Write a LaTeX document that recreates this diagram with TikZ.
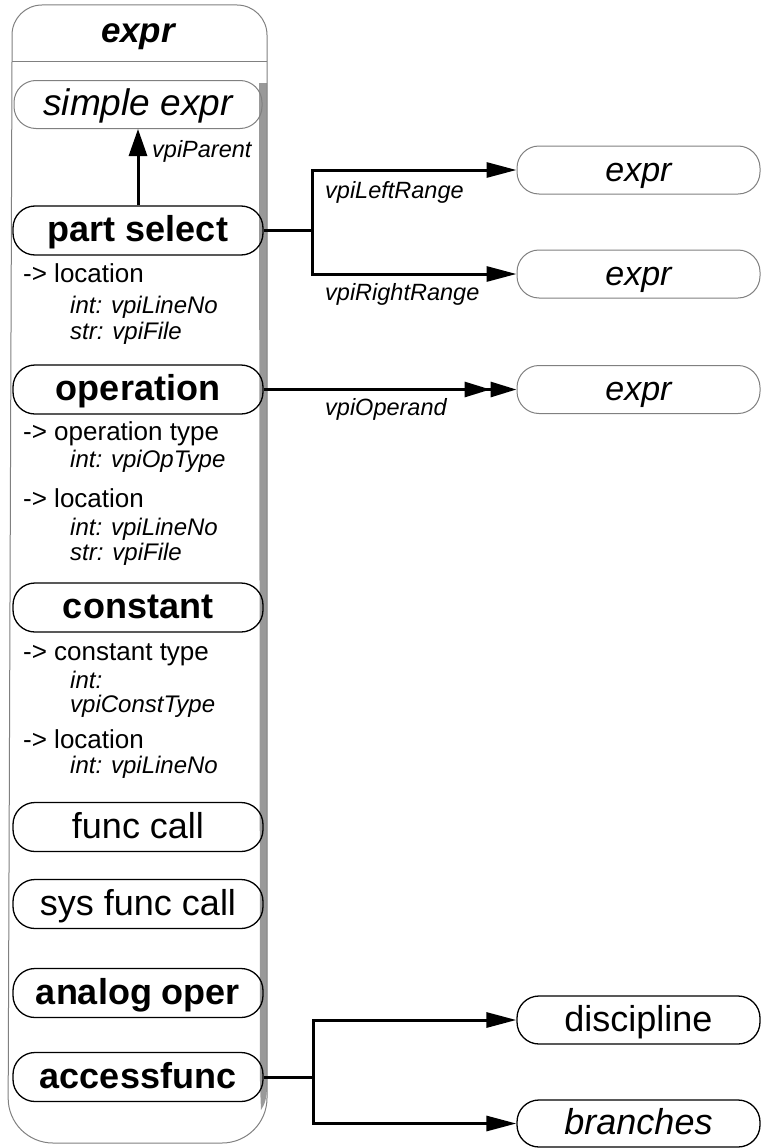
\documentclass[tikz,border=0pt]{standalone}
\usepackage{fontspec}
\setmainfont{Liberation Sans}
\usetikzlibrary{arrows.meta}
\begin{document}
\begin{tikzpicture}[x=1pt,y=-1pt,
  cls/.style={draw, line width=1.3pt, rounded corners=22pt, minimum width=250pt, minimum height=49pt, inner sep=0pt, text height=27pt, text depth=5pt, font=\fontsize{36}{38}\selectfont},
  ref/.style={draw=black!50, line width=1pt, rounded corners=22pt, minimum width=243pt, minimum height=48pt, inner sep=0pt, text height=27pt, text depth=5pt, font=\fontsize{35}{38}\selectfont\itshape},
  attr/.style={anchor=base west, inner sep=0pt, font=\fontsize{26}{28}\selectfont},
  prop/.style={anchor=base west, inner sep=0pt, font=\fontsize{24}{26}\selectfont\itshape},
  lbl/.style={anchor=base west, inner sep=0pt, font=\fontsize{23.5}{26}\selectfont\itshape},
  conn/.style={line width=3pt},
  arr/.style={-{Triangle[length=30pt,width=15pt]}},
  outline/.style={draw=black!50, line width=1pt}
]
\useasboundingbox (0,0) rectangle (761,1148);
% container
\fill[black!40] (259,83) -- (267,83) -- (267,1085) .. controls (267,1098) and (265,1104) .. (261,1110) -- (260,1085) -- cycle;
\draw[outline, rounded corners=30pt] (12,62) -- (12,5) -- (267,5) -- (267,62);
\draw[outline] (12,62) -- (267,62);
\draw[outline, rounded corners=45pt] (12,62) -- (8,1143) -- (267,1143) -- (267,62);
\node[inner sep=0pt, anchor=base, font=\fontsize{35}{38}\selectfont\bfseries\itshape] (title) at (138,43) {expr};

% inner nodes
\node[ref, minimum width=248pt, font=\fontsize{37}{40}\selectfont\itshape] (se) at (138,104.5) {simple expr};
\node[cls, font=\fontsize{36}{38}\selectfont\bfseries] (ps) at (138,230.5) {part select};
\node[attr] (ps1) at (23,282) {-> location};
\node[prop] (ps2) at (70,313) {int: vpiLineNo};
\node[prop] (ps3) at (70,339) {str: vpiFile};

\node[cls, font=\fontsize{36}{38}\selectfont\bfseries] (op) at (138,389.5) {operation};
\node[attr] (op1) at (23,440) {-> operation type};
\node[prop] (op2) at (70,467) {int: vpiOpType};
\node[attr] (op3) at (23,507) {-> location};
\node[prop] (op4) at (70,535) {int: vpiLineNo};
\node[prop] (op5) at (70,560) {str: vpiFile};

\node[cls, font=\fontsize{36}{38}\selectfont\bfseries] (co) at (138,607.5) {constant};
\node[attr] (co1) at (23,660) {-> constant type};
\node[prop] (co2) at (70,688) {int:};
\node[prop] (co3) at (70,712) {vpiConstType};
\node[attr] (co4) at (23,748) {-> location};
\node[prop] (co5) at (70,773) {int: vpiLineNo};

\node[cls] (fc) at (138,827) {func call};
\node[cls] (sfc) at (138,904) {sys func call};
\node[cls, font=\fontsize{36}{38}\selectfont\bfseries] (ao) at (138,993) {analog oper};
\node[cls, font=\fontsize{36}{38}\selectfont\bfseries] (af) at (138,1077) {accessfunc};

% right nodes
\node[ref, font=\fontsize{34}{36}\selectfont\itshape] (e1) at (638.5,170) {expr};
\node[ref, font=\fontsize{34}{36}\selectfont\itshape] (e2) at (638.5,274) {expr};
\node[ref, font=\fontsize{34}{36}\selectfont\itshape] (e3) at (638.5,389.5) {expr};
\node[cls, minimum width=243pt, minimum height=48pt] (disc) at (638.5,1020) {discipline};
\node[cls, minimum width=243pt, minimum height=47pt, font=\fontsize{36}{38}\selectfont\itshape] (br) at (638.5,1123.5) {branches};

% connectors
\draw[conn, -{Triangle[length=27pt,width=18pt]}] (ps.north) -- (se.south);
\node[lbl] (l0) at (152,157) {vpiParent};

\coordinate (j1) at (312,230.5);
\draw[conn] (ps.east) -- (j1);
\draw[conn, arr] (j1) |- (e1.west);
\draw[conn, arr] (j1) |- (e2.west);
\node[lbl] (l1) at (325,198) {vpiLeftRange};
\node[lbl] (l2) at (325,300) {vpiRightRange};

\draw[conn, -{Triangle[length=26pt,width=15pt]Triangle[length=26pt,width=15pt]}] (op.east) -- (e3.west);
\node[lbl] (l3) at (325,415) {vpiOperand};

\coordinate (j2) at (313,1077);
\draw[conn] (af.east) -- (j2);
\draw[conn, arr] (j2) |- (disc.west);
\draw[conn, arr] (j2) |- (br.west);
\end{tikzpicture}
\end{document}
